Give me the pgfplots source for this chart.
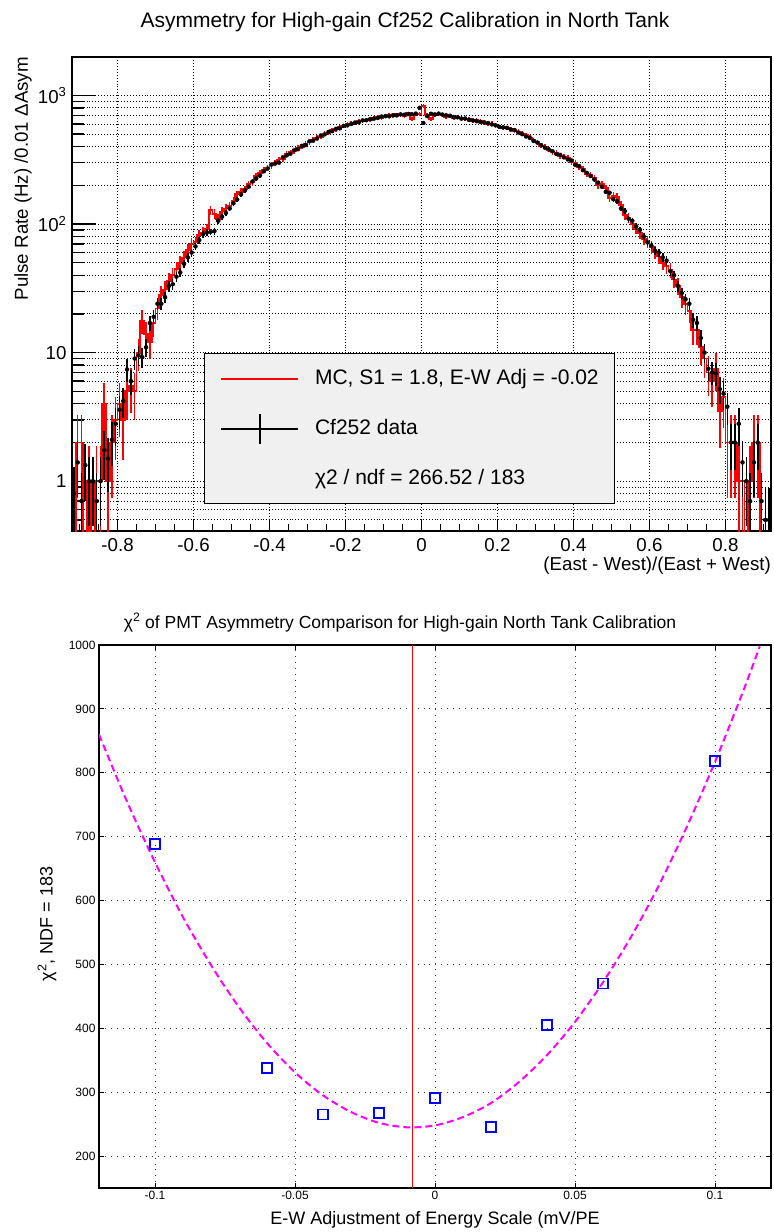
\documentclass[border=0pt]{standalone}
\usepackage{pgfplots}
\pgfplotsset{compat=1.18}
\usepackage{pgfplotstable}
\usepackage{fontspec}
\setmainfont{Liberation Sans}
\definecolor{matmag}{RGB}{255,0,255}
\definecolor{matblue}{RGB}{0,0,255}
\definecolor{rootred}{RGB}{255,0,0}

\pgfplotstableread{
x mc data
-0.915 0.2 0.8
-0.905 2.0 1.4
-0.895 2.0 0.7
-0.885 0.2 1.33
-0.875 1.0 1.0
-0.865 0.2 1.0
-0.855 1.0 0.7
-0.845 1.0 1.0
-0.835 4.0 1.75
-0.825 1.0 1.5
-0.815 2.0 2.1
-0.805 3.0 2.8
-0.795 4.0 3.6
-0.785 3.0 4.2
-0.775 5.0 7.4
-0.765 5.5 6.0
-0.755 5.0 9.0
-0.745 10.0 9.5
-0.735 17.6 9.2
-0.725 14 11
-0.715 12 17
-0.705 17 19
-0.695 22 24
-0.685 28 24
-0.675 31 27
-0.665 36 33
-0.655 40 34
-0.645 45 39
-0.635 50 42
-0.625 55 49
-0.615 63 55
-0.605 70 60
-0.595 72 67
-0.585 82 75
-0.575 86 83
-0.565 92 86
-0.555 128 87
-0.545 120 88
-0.535 110 106
-0.525 125 114
-0.515 132 122
-0.505 138 132
-0.495 152 145
-0.485 170 155
-0.475 178 170
-0.465 186 182
-0.455 205 195
-0.445 212 214
-0.435 236 226
-0.425 250 238
-0.415 262 257
-0.405 272 270
-0.395 285 290
-0.385 300 296
-0.375 318 300
-0.365 322 330
-0.355 350 342
-0.345 362 352
-0.335 368 375
-0.325 392 382
-0.315 398 405
-0.305 420 412
-0.295 430 440
-0.285 455 445
-0.275 470 462
-0.265 478 488
-0.255 506 498
-0.245 512 520
-0.235 538 528
-0.225 545 550
-0.215 568 555
-0.205 575 580
-0.195 596 585
-0.185 605 600
-0.175 610 615
-0.165 632 618
-0.155 628 640
-0.145 650 642
-0.135 648 655
-0.125 670 660
-0.115 676 668
-0.105 672 685
-0.095 695 690
-0.085 700 688
-0.075 690 702
-0.065 712 700
-0.055 705 712
-0.045 690 708
-0.035 725 718
-0.025 660 714
-0.015 715 722
-0.005 720 800
0.005 830 610
0.015 700 690
0.025 660 720
0.035 700 712
0.045 712 722
0.055 702 710
0.065 676 700
0.075 690 695
0.085 670 680
0.095 682 676
0.105 672 660
0.115 652 662
0.125 655 645
0.135 636 640
0.145 640 630
0.155 632 622
0.165 608 618
0.175 600 610
0.185 605 595
0.195 592 585
0.205 572 570
0.215 558 565
0.225 562 560
0.235 552 542
0.245 530 538
0.255 525 515
0.265 505 500
0.275 490 480
0.285 470 468
0.295 450 442
0.305 435 430
0.315 405 410
0.325 400 392
0.335 378 380
0.345 360 368
0.355 358 350
0.365 338 345
0.375 335 330
0.385 325 318
0.395 305 312
0.405 300 288
0.415 278 282
0.425 270 262
0.435 245 250
0.445 240 236
0.455 228 222
0.465 200 210
0.475 205 195
0.485 190 178
0.495 160 175
0.505 165 156
0.515 162 150
0.525 140 132
0.535 118 126
0.545 112 110
0.555 100 106
0.565 92 96
0.575 85 90
0.585 76 80
0.595 73 72
0.605 66 68
0.615 60 62
0.625 56 60
0.635 50 55
0.645 47 52
0.655 44 43
0.665 37 40
0.675 33 33
0.685 27 29
0.695 24 26
0.705 21 24
0.715 15 18
0.725 15 17
0.735 11 13
0.745 9 10
0.755 7 7.5
0.765 6 7
0.775 7.5 6.9
0.785 3.5 5.2
0.795 4.5 4.8
0.805 2.0 3.8
0.815 2.0 2.0
0.825 2.0 2.0
0.835 1.0 2.8
0.845 1.0 1.4
0.855 0.2 1.0
0.865 1.0 0.7
0.875 2.0 1.4
0.885 2.0 2.0
0.895 0.2 0.7
0.905 0.2 0.5
0.915 0.2 0.5
}\histtab

\pgfplotstableread{
x chi
-0.10 688
-0.06 338
-0.04 265
-0.02 267
0.00 291
0.02 245
0.04 405
0.06 470
0.10 818
}\chitab

\pgfplotstableread{
x fit
-0.120 860
-0.110 755
-0.100 660
-0.090 574
-0.080 499
-0.070 433
-0.060 377
-0.050 331
-0.040 295
-0.030 269
-0.020 252
-0.010 245
0.000 248
0.010 261
0.020 283
0.030 316
0.040 358
0.050 410
0.060 472
0.070 543
0.080 624
0.090 716
0.100 817
0.110 927
0.116 998
}\fittab

\begin{document}
\begin{tikzpicture}
\useasboundingbox (0,0) rectangle (774bp,-1232bp);

% ---------------- top panel ----------------
\begin{axis}[
  at={(72bp,-57bp)}, anchor=north west,
  scale only axis, width=699bp, height=474bp,
  xmin=-0.92, xmax=0.92,
  ymode=log, ymin=0.41, ymax=1990,
  axis line style={line width=1.4bp},
  xtick={-0.8,-0.6,-0.4,-0.2,0,0.2,0.4,0.6,0.8},
  xticklabels={-0.8,-0.6,-0.4,-0.2,0,0.2,0.4,0.6,0.8},
  minor xtick={-0.9,-0.85,-0.75,-0.7,-0.65,-0.55,-0.5,-0.45,-0.35,-0.3,-0.25,-0.15,-0.1,-0.05,0.05,0.1,0.15,0.25,0.3,0.35,0.45,0.5,0.55,0.65,0.7,0.75,0.85,0.9},
  ytick={1,10,100,1000},
  yticklabels={1,10,10\textsuperscript{2},10\textsuperscript{3}},
  minor ytick={0.5,0.6,0.7,0.8,0.9,2,3,4,5,6,7,8,9,20,30,40,50,60,70,80,90,200,300,400,500,600,700,800,900},
  tick pos=left, tick align=inside,
  major tick length=12bp, minor tick length=7bp,
  ytick style={/pgfplots/major tick length=24bp, /pgfplots/minor tick length=12bp},
  tick style={black, line width=1.3bp},
  xmajorgrids, ymajorgrids, yminorgrids,
  major grid style={black, line width=0.9bp, dash pattern=on 0.9bp off 2bp},
  minor grid style={black, line width=0.9bp, dash pattern=on 0.9bp off 2bp},
  ticklabel style={font=\fontsize{18.7bp}{22bp}\selectfont},
  yticklabel style={xshift=-2bp},
  xticklabel style={yshift=-4bp},
  legend cell align=left,
  legend style={at={(axis description cs:0.1888,0.3755)}, anchor=north west,
    fill=black!6, draw=black, line width=1.2bp,
    font=\fontsize{21bp}{24bp}\selectfont,
    inner xsep=16bp, inner ysep=14.5bp, row sep=29bp,
    nodes={inner sep=0pt, text height=16bp, text depth=5bp}},
]
\addplot[rootred, line width=1.8bp, const plot mark mid, forget plot,
  error bars/.cd, y dir=both, y explicit,
  error bar style={rootred, line width=1.6bp}, error mark=none]
  table[x=x, y=mc, y error expr={min(sqrt(0.8*\thisrow{mc}),0.97*\thisrow{mc})}] {\histtab};
\addplot[black, only marks, mark=none, forget plot,
  error bars/.cd, x dir=both, x fixed=0.005, y dir=both, y explicit,
  error bar style={black, line width=1.6bp, solid}, error mark=none]
  table[x=x, y=data, y error expr={min(sqrt(0.3*\thisrow{data}),0.97*\thisrow{data})}] {\histtab};

\addlegendimage{legend image code/.code={\draw[rootred, line width=1.8bp] (0bp,0bp) -- (77bp,0bp); \path (93bp,0bp);}}
\addlegendentry{MC, S1 = 1.8, E-W Adj = -0.02\hspace{25bp}}
\addlegendimage{legend image code/.code={\draw[black, line width=1.8bp] (0bp,0bp) -- (77bp,0bp); \draw[black, line width=1.8bp, overlay] (38.5bp,-15bp) -- (38.5bp,15bp); \path (93bp,0bp);}}
\addlegendentry{Cf252 data}
\addlegendimage{empty legend}
\addlegendentry{χ2 / ndf = 266.52 / 183}
\end{axis}

\node[anchor=base, font=\fontsize{21bp}{24bp}\selectfont] at (405bp,-27bp)
  {Asymmetry for High-gain Cf252 Calibration in North Tank};
\node[rotate=90, anchor=east, inner sep=0pt, font=\fontsize{18.7bp}{22bp}\selectfont] at (23bp,-57bp)
  {Pulse Rate (Hz) /0.01 ΔAsym};
\node[anchor=north east, inner sep=0pt, font=\fontsize{18.7bp}{22bp}\selectfont] at (771bp,-557bp)
  {(East - West)/(East + West)};

% ---------------- bottom panel ----------------
\begin{axis}[
  at={(99bp,-645bp)}, anchor=north west,
  scale only axis, width=672bp, height=543bp,
  xmin=-0.12, xmax=0.12, ymin=150, ymax=1000,
  axis line style={line width=1.1bp},
  xtick={-0.1,-0.05,0,0.05,0.1},
  xticklabels={-0.1,-0.05,0,0.05,0.1},
  ytick={200,300,400,500,600,700,800,900,1000},
  yticklabels={200,300,400,500,600,700,800,900,1000},
  tick align=inside, major tick length=5bp,
  tick style={black, line width=1bp},
  grid=major,
  major grid style={black!80, line width=0.9bp, dash pattern=on 0.9bp off 5bp},
  ticklabel style={font=\fontsize{12bp}{14bp}\selectfont},
]
\addplot[rootred, line width=1.1bp] coordinates {(-0.008,150) (-0.008,1000)};
\addplot[matmag, line width=2bp, dash pattern=on 7bp off 4bp, smooth] table[x=x, y=fit] {\fittab};
\addplot[matblue, only marks, mark=square, mark size=5bp, mark options={line width=1.8bp}] table[x=x, y=chi] {\chitab};
\end{axis}

\node[anchor=base, font=\fontsize{17.5bp}{20bp}\selectfont] at (400bp,-628bp)
  {χ\textsuperscript{2} of PMT Asymmetry Comparison for High-gain North Tank Calibration};
\node[rotate=90, font=\fontsize{18bp}{20bp}\selectfont] at (47bp,-924bp)
  {χ\textsuperscript{2}, NDF = 183};
\node[anchor=base, font=\fontsize{18bp}{20bp}\selectfont] at (435bp,-1224bp)
  {E-W Adjustment of Energy Scale (mV/PE};
\end{tikzpicture}
\end{document}
